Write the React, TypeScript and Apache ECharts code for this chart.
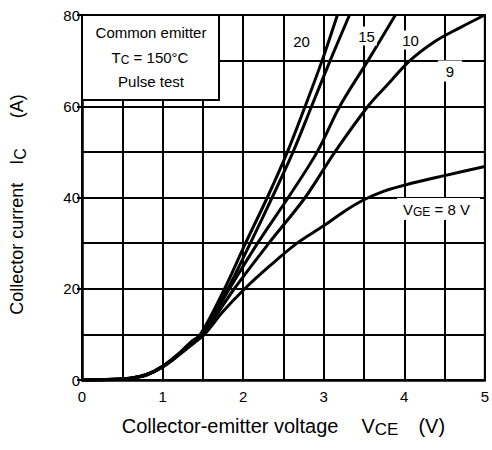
import React, { useEffect, useRef } from 'react';
import * as echarts from 'echarts';

const FONT = '"Liberation Sans", Arial, Helvetica, sans-serif';

// Collector-emitter voltage (V) vs collector current (A), one list per gate voltage
const vge20: number[][] = [[0, 0], [0.3, 0.1], [0.6, 0.4], [0.8, 1.2], [1.0, 3.0], [1.2, 5.8], [1.35, 8.3], [1.47, 10], [1.77, 20], [2.03, 30], [2.3, 40], [2.55, 50], [2.77, 60], [2.98, 70], [3.17, 80]];
const vge15: number[][] = [[0, 0], [0.3, 0.1], [0.6, 0.4], [0.8, 1.2], [1.0, 3.0], [1.2, 5.7], [1.36, 8.2], [1.48, 10], [1.81, 20], [2.09, 30], [2.36, 40], [2.62, 50], [2.85, 60], [3.08, 70], [3.32, 80]];
const vge10: number[][] = [[0, 0], [0.3, 0.1], [0.6, 0.4], [0.8, 1.1], [1.0, 2.9], [1.2, 5.6], [1.37, 8.2], [1.49, 10], [1.83, 20], [2.18, 30], [2.56, 40], [2.92, 50], [3.2, 60], [3.55, 70], [3.89, 80]];
const vge9: number[][] = [[0, 0], [0.3, 0.1], [0.6, 0.4], [0.8, 1.1], [1.0, 2.9], [1.2, 5.5], [1.38, 8.2], [1.5, 10], [1.89, 20], [2.32, 30], [2.77, 40], [3.14, 50], [3.55, 60], [3.78, 64.5], [4.07, 70], [4.38, 74.2], [4.7, 77.3], [5.0, 80]];
const vge8: number[][] = [[0, 0], [0.3, 0.1], [0.6, 0.4], [0.8, 1.1], [1.0, 2.8], [1.2, 5.4], [1.39, 8.1], [1.52, 10], [1.75, 15], [2.02, 20], [2.33, 25], [2.67, 30], [3.0, 33.8], [3.25, 36.9], [3.5, 39.5], [3.75, 41.4], [4.0, 42.7], [4.5, 44.8], [5.0, 46.8]];

const seriesList = [
  { name: 'VGE = 20 V', data: vge20 },
  { name: 'VGE = 15 V', data: vge15 },
  { name: 'VGE = 10 V', data: vge10 },
  { name: 'VGE = 9 V', data: vge9 },
  { name: 'VGE = 8 V', data: vge8 },
];

const xMin = 0, xMax = 5, xStep = 1;
const yMin = 0, yMax = 80, yStep = 20;

const boxLines = ['Common emitter', 'Pulse test'];

export default function App() {
  const ref = useRef<HTMLDivElement>(null);
  useEffect(() => {
    const chart = echarts.init(ref.current!, null, { renderer: 'svg' });
    const baseText = { fontFamily: FONT, fontSize: 15, fill: '#000' };
    const labelBg = { backgroundColor: '#fff' };
    chart.setOption({
      animation: false,
      backgroundColor: '#fff',
      grid: { left: 82, right: 2, top: 15, bottom: 70, show: true, borderColor: '#000', borderWidth: 2, backgroundColor: 'transparent' },
      xAxis: {
        type: 'value', min: xMin, max: xMax, interval: xStep,
        name: '{m|Collector-emitter voltage}{g| }{m|V}{s|CE}{h| }{m|(V)}',
        nameLocation: 'middle', nameGap: 34,
        nameTextStyle: {
          rich: {
            m: { fontFamily: FONT, fontSize: 20, lineHeight: 24, color: '#000' },
            s: { fontFamily: FONT, fontSize: 17, lineHeight: 12, verticalAlign: 'bottom', color: '#000' },
            g: { width: 23 },
            h: { width: 20 },
          },
        },
        axisLine: { show: true, lineStyle: { color: '#000', width: 2.5 } },
        axisTick: { show: false },
        axisLabel: { color: '#000', fontFamily: FONT, fontSize: 15, margin: 9 },
        splitLine: { show: true, lineStyle: { color: '#000', width: 2 } },
        minorTick: { show: false, splitNumber: 2 },
        minorSplitLine: { show: true, lineStyle: { color: '#000', width: 2 } },
      },
      yAxis: {
        type: 'value', min: yMin, max: yMax, interval: yStep,
        name: '{m|Collector current}{g| }{m|I}{s|C}{h| }{m|(A)}',
        nameLocation: 'middle', nameGap: 54,
        nameTextStyle: {
          padding: [0, 14, 0, 0],
          rich: {
            m: { fontFamily: FONT, fontSize: 18, lineHeight: 22, color: '#000' },
            s: { fontFamily: FONT, fontSize: 16, lineHeight: 12, verticalAlign: 'bottom', color: '#000' },
            g: { width: 18 },
            h: { width: 30 },
          },
        },
        axisLine: { show: true, lineStyle: { color: '#000', width: 2.5 } },
        axisTick: { show: true, length: 5, lineStyle: { color: '#000', width: 2 } },
        axisLabel: { color: '#000', fontFamily: FONT, fontSize: 15, margin: 2 },
        splitLine: { show: true, lineStyle: { color: '#000', width: 2 } },
        minorTick: { show: false, splitNumber: 2 },
        minorSplitLine: { show: true, lineStyle: { color: '#000', width: 2 } },
      },
      series: seriesList.map((s) => ({
        type: 'line', name: s.name, data: s.data,
        showSymbol: false, smooth: 0.35, clip: true,
        lineStyle: { color: '#000', width: 3 }, z: 3,
      })),
      graphic: [
        { type: 'rect', z: 100, shape: { x: 82, y: 15, width: 137, height: 85 }, style: { fill: '#fff', stroke: '#000', lineWidth: 2 } },
        { type: 'text', z: 101, x: 151, y: 32, style: { ...baseText, text: boxLines[0], align: 'center', verticalAlign: 'middle' } },
        {
          type: 'text', z: 101, x: 150, y: 57,
          style: {
            text: '{m|T}{s|C}{m| = 150°C}', align: 'center', verticalAlign: 'middle',
            rich: {
              m: { fontFamily: FONT, fontSize: 15, lineHeight: 17, fill: '#000' },
              s: { fontFamily: FONT, fontSize: 12, lineHeight: 12, verticalAlign: 'bottom', fill: '#000' },
            },
          },
        },
        { type: 'text', z: 101, x: 151, y: 81, style: { ...baseText, text: boxLines[1], align: 'center', verticalAlign: 'middle' } },
        { type: 'text', z: 101, x: 301.5, y: 41, style: { ...baseText, ...labelBg, text: '20', align: 'center', verticalAlign: 'middle', padding: [1, 2, 1, 2] } },
        { type: 'text', z: 101, x: 366.5, y: 36, style: { ...baseText, ...labelBg, text: '15', align: 'center', verticalAlign: 'middle', padding: [2, 2, 2, 2] } },
        { type: 'text', z: 101, x: 410.5, y: 40, style: { ...baseText, ...labelBg, text: '10', align: 'center', verticalAlign: 'middle', padding: [2, 2, 2, 2] } },
        { type: 'text', z: 101, x: 450, y: 71, style: { ...baseText, ...labelBg, text: '9', align: 'center', verticalAlign: 'middle', padding: [4, 8, 2, 8] } },
        {
          type: 'text', z: 101, x: 397, y: 198,
          style: {
            text: '{m|V}{s|GE}{m| = 8 V}', align: 'left', verticalAlign: 'top',
            backgroundColor: '#fff', padding: [3, 10, 2, 6],
            rich: {
              m: { fontFamily: FONT, fontSize: 15, lineHeight: 17, fill: '#000' },
              s: { fontFamily: FONT, fontSize: 12, lineHeight: 12, verticalAlign: 'bottom', fill: '#000' },
            },
          },
        },
      ],
    });
    return () => chart.dispose();
  }, []);
  return <div ref={ref} style={{ position: 'absolute', left: 0, top: 0, width: 492, height: 450 }} />;
}
